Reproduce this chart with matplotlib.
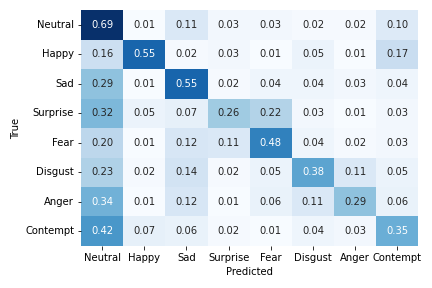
import matplotlib
matplotlib.use("Agg")
import matplotlib.pyplot as plt
import seaborn as sns
import numpy as np

labels = ["Neutral", "Happy", "Sad", "Surprise", "Fear", "Disgust", "Anger", "Contempt"]
row_neutral = [0.69, 0.01, 0.11, 0.03, 0.03, 0.02, 0.02, 0.10]
row_happy = [0.16, 0.55, 0.02, 0.03, 0.01, 0.05, 0.01, 0.17]
row_sad = [0.29, 0.01, 0.55, 0.02, 0.04, 0.04, 0.03, 0.04]
row_surprise = [0.32, 0.05, 0.07, 0.26, 0.22, 0.03, 0.01, 0.03]
row_fear = [0.20, 0.01, 0.12, 0.11, 0.48, 0.04, 0.02, 0.03]
row_disgust = [0.23, 0.02, 0.14, 0.02, 0.05, 0.38, 0.11, 0.05]
row_anger = [0.34, 0.01, 0.12, 0.01, 0.06, 0.11, 0.29, 0.06]
row_contempt = [0.42, 0.07, 0.06, 0.02, 0.01, 0.04, 0.03, 0.35]

cm = np.array([row_neutral, row_happy, row_sad, row_surprise,
               row_fear, row_disgust, row_anger, row_contempt])

fig = plt.figure(figsize=(6, 4), dpi=72)
ax = fig.add_axes([0.1875, 0.146, 0.781, 0.819])
sns.heatmap(cm, annot=True, fmt=".2f", cmap="Blues", cbar=False,
            xticklabels=labels, yticklabels=labels, ax=ax)
ax.set_xlabel("Predicted")
ax.set_ylabel("True")
plt.setp(ax.get_yticklabels(), rotation=0)
plt.setp(ax.get_xticklabels(), rotation=0)
fig.savefig("out.png", dpi=72)
